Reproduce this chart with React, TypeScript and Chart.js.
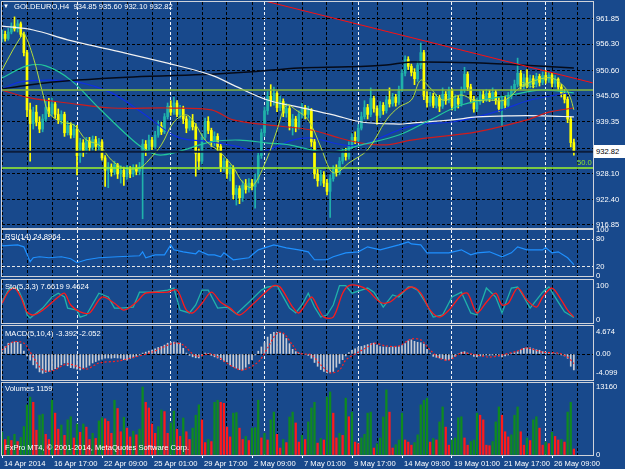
import React, { useEffect, useRef } from "react";
import { Chart, registerables } from "chart.js";

Chart.register(...registerables);

const FONT = "'Liberation Sans', Arial, sans-serif";
const FS = 7.6;
const BG = "#18498c";
const BULL = "#20b2aa";
const BEAR = "#ffff00";
const W = 625;
const H = 469;
const X_MAX = 591 / 3.125;
const DASH = [3, 2];

// ---------------- data ----------------
const opens = [957.5,958.5,957.6,959.0,960.3,959.7,960.8,958.5,954.5,942.0,
939.0,941.5,939.3,937.8,940.0,942.5,941.2,943.3,941.0,939.8,
941.0,937.0,938.6,936.5,937.8,932.0,934.8,933.0,935.2,933.8,
935.5,934.0,935.0,931.5,928.8,929.5,928.4,930.0,928.0,928.8,
927.4,929.0,928.0,929.3,928.6,929.5,934.5,933.2,935.4,934.0,
936.5,938.5,937.2,940.5,942.8,941.5,943.5,941.0,942.3,940.0,
938.0,939.6,938.3,932.5,930.8,936.0,939.5,937.5,935.0,936.2,
934.0,929.5,930.8,928.0,929.2,923.5,924.8,922.8,925.6,924.6,
926.0,925.2,926.8,932.0,937.0,941.8,945.0,944.0,945.6,942.5,
943.8,941.3,942.3,938.5,940.0,938.2,941.0,942.5,941.0,942.0,
935.0,928.0,926.5,927.8,926.0,924.2,927.0,929.0,928.3,930.8,
932.5,931.8,934.2,936.0,935.3,938.0,940.5,942.5,941.0,944.5,
942.3,940.8,943.0,941.8,944.2,943.3,944.8,943.6,946.5,950.0,
953.0,951.5,950.2,948.8,951.8,954.5,945.0,943.6,945.0,943.0,
944.6,942.8,945.4,944.0,946.2,942.8,944.5,943.3,946.3,949.8,
947.0,944.3,942.2,943.8,945.3,944.3,945.6,944.5,945.8,944.0,
942.3,944.2,943.0,945.0,946.3,947.6,950.0,947.2,949.0,947.5,
948.8,947.6,949.3,948.0,949.5,948.5,949.6,947.8,948.7,947.0,
945.6,944.3,940.0,934.85];

const closes = [958.5,957.6,959.0,960.3,959.7,960.8,958.5,954.5,942.0,939.0,
941.5,939.3,937.8,940.0,942.5,941.2,943.3,941.0,939.8,941.0,
937.0,938.6,936.5,937.8,932.0,934.8,933.0,935.2,933.8,935.5,
934.0,935.0,931.5,928.8,929.5,928.4,930.0,928.0,928.8,927.4,
929.0,928.0,929.3,928.6,929.5,934.5,933.2,935.4,934.0,936.5,
938.5,937.2,940.5,942.8,941.5,943.5,941.0,942.3,940.0,938.0,
939.6,938.3,932.5,930.8,936.0,939.5,937.5,935.0,936.2,934.0,
929.5,930.8,928.0,929.2,923.5,924.8,922.8,925.6,924.6,926.0,
925.2,926.8,932.0,937.0,941.8,945.0,944.0,945.6,942.5,943.8,
941.3,942.3,938.5,940.0,938.2,941.0,942.5,941.0,942.0,935.0,
928.0,926.5,927.8,926.0,924.2,927.0,929.0,928.3,930.8,932.5,
931.8,934.2,936.0,935.3,938.0,940.5,942.5,941.0,944.5,942.3,
940.8,943.0,941.8,944.2,943.3,944.8,943.6,946.5,950.0,953.0,
951.5,950.2,948.8,951.8,954.5,945.0,943.6,945.0,943.0,944.6,
942.8,945.4,944.0,946.2,942.8,944.5,943.3,946.3,949.8,947.0,
944.3,942.2,943.8,945.3,944.3,945.6,944.5,945.8,944.0,942.3,
944.2,943.0,945.0,946.3,947.6,950.0,947.2,949.0,947.5,948.8,
947.6,949.3,948.0,949.5,948.5,949.6,947.8,948.7,947.0,945.6,
944.3,940.0,934.85,932.82];

const highs = [959.5,959.2,959.8,961.0,962.3,961.6,961.2,959.0,955.0,943.5,
942.6,943.0,940.5,941.0,944.0,944.5,944.6,943.8,942.2,941.8,
941.5,939.5,939.2,938.9,938.6,935.8,935.5,936.0,936.0,936.3,
936.2,935.8,935.5,932.0,930.5,930.2,930.8,930.3,929.8,929.5,
929.8,929.6,930.0,930.0,930.5,935.5,935.3,936.5,936.0,937.3,
939.6,939.3,941.2,943.5,944.0,944.8,944.0,943.0,942.8,940.6,
940.5,941.0,939.0,933.5,936.8,940.2,940.5,938.0,937.2,936.8,
934.5,931.5,931.2,930.0,929.8,925.5,925.4,926.5,926.8,927.0,
926.8,928.0,932.6,937.8,942.6,946.0,947.5,947.0,946.0,945.0,
944.4,943.4,942.8,941.0,940.6,941.8,943.4,943.0,942.8,942.3,
935.6,929.0,928.8,928.5,926.8,927.8,929.8,930.0,931.6,933.5,
933.6,935.0,936.8,937.2,938.8,941.5,944.0,943.2,946.8,945.0,
942.9,943.8,943.6,945.0,946.8,945.6,945.4,947.2,950.8,953.8,
953.6,952.0,951.0,952.6,956.6,955.0,946.0,945.8,945.6,945.4,
945.2,946.8,946.0,947.0,946.6,945.3,945.0,947.0,951.3,950.3,
947.6,945.0,944.6,946.0,946.2,946.5,946.3,946.8,946.3,944.6,
945.0,945.0,945.8,947.2,948.5,953.3,950.6,949.8,950.8,949.6,
949.5,950.0,949.8,950.3,950.6,950.2,950.0,949.5,949.0,947.6,
946.5,944.8,940.5,935.60];

const lows = [956.8,957.0,957.2,958.6,959.2,959.0,958.0,953.8,940.5,930.8,
937.8,938.5,937.0,937.2,939.5,940.5,940.8,940.2,939.0,938.9,
936.2,936.5,935.8,935.9,927.8,930.5,931.8,932.5,933.0,933.2,
933.0,933.2,931.0,925.3,925.0,927.5,927.8,927.0,926.0,925.5,
926.8,927.2,927.4,927.8,927.8,918.2,932.0,932.6,933.3,933.6,
936.0,936.6,936.8,940.0,940.8,941.0,940.5,940.2,939.0,937.0,
937.5,937.6,927.5,929.0,930.2,935.5,936.8,934.0,934.2,933.0,
928.5,928.6,927.0,926.5,922.5,921.2,921.5,922.0,923.8,924.0,
924.5,920.5,926.0,931.4,936.2,941.0,942.8,943.0,941.6,941.8,
940.5,940.4,937.6,936.5,937.2,937.8,940.2,940.0,940.2,934.0,
927.0,925.3,925.5,925.2,923.4,918.5,926.4,927.5,927.8,930.2,
931.0,931.2,933.6,934.6,934.8,937.6,940.0,940.0,940.5,941.5,
938.8,940.3,941.0,941.3,942.6,942.8,942.8,943.2,946.0,949.4,
950.8,949.4,947.5,948.2,951.0,944.2,942.6,942.8,942.5,942.4,
941.6,942.3,943.2,943.5,942.0,941.8,942.4,942.8,945.8,946.2,
943.5,941.5,941.6,943.2,943.6,943.8,943.8,944.0,943.2,941.6,
938.3,942.2,942.5,944.4,945.8,947.0,946.5,946.6,946.8,946.8,
946.8,947.0,947.2,947.5,947.8,948.0,947.0,947.0,946.3,944.8,
943.5,939.2,933.9,932.10];

const volumes = [4400,3000,3600,2800,4000,2600,3400,5500,9700,11200,
10200,4800,7700,7900,4000,3000,10600,8100,5000,5800,
3800,6800,7400,3300,6000,4400,6000,5400,3000,4200,
3200,6600,7200,7000,6500,4200,10600,9000,4500,7300,
5200,3500,4600,3900,5000,13160,10200,9100,6000,4200,
5500,8700,8400,4200,6200,8500,5000,3600,7160,4500,
3000,5200,7700,9700,6800,2400,3000,2600,10200,10600,
10200,10000,5400,3500,8100,8200,5200,3000,3600,2800,
5200,5300,10600,3300,4200,2900,6800,8300,4000,1350,
3000,2400,7350,8300,6200,2500,3800,3000,6400,9100,
10200,2300,3200,2900,11200,12200,8100,3300,4200,3800,
11000,7400,8300,2500,2200,3300,4000,8100,8300,1350,
2200,3300,7350,12600,8300,1350,2000,2900,8100,2900,
2500,1900,2400,3900,9700,10600,11000,2500,3200,2900,
6400,9300,5400,1900,2900,3300,7200,7400,3300,1900,
2600,2900,8100,7700,6800,1900,1800,2600,6400,9300,
7700,4500,3500,3900,7700,9300,4500,1900,3300,2800,
6800,7400,5200,1900,2500,2200,4400,3600,2900,3000,
2500,8300,10200,1159];

const macdMain = [0.4,1.6,2.3,2.4,2.55,2.5,2.1,0.6,-0.4,-1.3,
-2.3,-3.0,-3.8,-4.099,-3.9,-3.7,-3.4,-3.1,-2.8,-2.3,
-1.9,-2.5,-2.9,-3.0,-3.2,-3.4,-3.1,-2.8,-2.4,-1.9,
-1.6,-1.3,-1.1,-0.9,-0.85,-0.9,-0.8,-0.85,-0.9,-1.2,
-1.3,-1.0,-0.8,-0.5,-0.2,0.2,0.4,0.6,0.85,1.1,
1.4,1.6,1.9,2.3,2.5,2.55,2.4,2.3,1.2,0.2,
-0.3,-0.6,-0.8,-0.85,-0.4,0.2,0.1,-0.3,-0.6,-0.85,
-1.2,-1.5,-1.7,-2.3,-2.7,-3.0,-3.3,-3.4,-2.8,-2.1,
-1.2,-0.2,0.6,1.5,2.4,3.6,4.2,4.6,4.674,4.6,
4.3,3.3,2.2,1.0,0.5,0.2,0.1,-0.1,-0.3,-0.9,
-1.8,-2.6,-3.3,-3.7,-4.0,-3.9,-3.7,-2.8,-2.0,-1.2,
-0.4,0.3,0.8,1.1,1.4,1.6,1.8,2.0,2.2,2.3,
1.9,1.6,1.5,1.5,1.4,1.5,1.5,1.6,1.8,2.2,
2.8,3.0,2.7,2.5,2.4,2.1,1.0,0.2,-0.5,-0.7,
-0.85,-1.0,-1.3,-1.2,-0.9,-0.5,0.0,0.4,0.5,0.2,
-0.1,-0.5,-0.6,-0.4,-0.3,-0.2,-0.25,-0.2,-0.2,-0.4,
-0.6,-0.4,-0.2,0.1,0.3,0.5,0.9,1.2,1.3,1.3,
1.1,0.9,0.8,0.5,0.35,0.25,0.2,0.1,0.0,-0.2,
-0.4,-0.9,-2.6,-3.392];

// [bar index, value] samples
const macdSignal = [[0,0.85],[3.5,2.55],[7,2.3],[10,-0.65],[13,-3.4],[16,-3.6],[21,-2.1],[27,-3.2],[31,-1.9],[37,-1.5],[44,-0.4],[48,0.4],[55,2.3],[58,1.9],[62,-0.4],[67,0],[74,-2.75],[77,-3.4],[82,-1.7],[85,1.3],[88,4.45],[90,4.45],[93,1.9],[95,0.2],[99,-0.2],[102,-2.3],[105,-4.0],[108,-3.4],[110,-1.3],[114,0.4],[117,1.5],[119,2.3],[123,1.7],[127,1.7],[131,3.2],[134,3.0],[137,0.85],[140,-0.85],[143,-1.3],[147,0.2],[152,-0.2],[156,-0.65],[160,-0.2],[165,0.65],[168,1.3],[173,0.4],[178,0.2],[181,-0.65],[183,-2.052]];

const rsiLine = [[0,65.5],[5,67.7],[7,63.4],[9,31],[10,39.7],[12,41.8],[15,39.7],[19,41.8],[22,37.5],[24,28.9],[27,35.3],[31,39.7],[37,41.8],[44,44],[45,52.6],[46,39.7],[49,46],[52,46],[54,67.7],[55,56.9],[58,52.6],[62,48.3],[63,55],[66,46],[68,46],[70,41.8],[71,50.4],[74,35.3],[79,39.7],[82,56.9],[85,63.4],[87,67.7],[91,61.2],[95,56.9],[98,52.6],[100,35.3],[104,35.3],[106,41.8],[110,50.4],[114,52.6],[117,63.4],[121,56.9],[127,67.7],[130,74.1],[131,69.8],[134,67.7],[136,50.4],[139,50.4],[143,50.4],[147,56.9],[150,46.1],[152,50.4],[156,52.6],[160,41.8],[163,50.4],[165,63.4],[168,56.9],[173,56.9],[174,61.2],[176,50.4],[178,52.6],[181,39.7],[183,24.9]];

const stoMain = [[0,52],[2,87],[3,95],[5,93],[7,52],[8,15],[9,6],[11,21],[13,35],[16,67],[18,78],[20,67],[21,35],[24,29],[25,9],[27,15],[31,78],[34,67],[36,35],[38,35],[42,38],[44,81],[48,81],[53,87],[55,93],[57,29],[60,21],[62,44],[64,87],[66,87],[69,35],[72,38],[75,18],[79,52],[83,87],[85,96],[88,100],[92,35],[94,21],[96,44],[98,78],[100,38],[102,9],[104,15],[106,44],[108,100],[110,100],[112,78],[117,93],[119,81],[122,38],[125,73],[127,67],[130,96],[131,96],[133,87],[136,44],[138,9],[141,15],[144,67],[147,81],[150,21],[152,15],[155,93],[158,67],[160,21],[163,93],[165,96],[167,67],[169,35],[171,58],[173,81],[175,96],[178,52],[180,24],[183,7.66]];

const stoSignal = [[0,49],[2,81],[4,93],[6,67],[8,24],[10,15],[13,29],[18,67],[20,78],[22,44],[25,24],[28,21],[32,67],[36,49],[39,29],[43,52],[46,78],[53,81],[56,87],[59,29],[61,21],[64,49],[67,81],[70,52],[73,35],[76,15],[80,44],[84,78],[87,100],[89,96],[93,38],[95,21],[99,67],[101,38],[103,9],[106,9],[109,78],[111,100],[114,100],[117,87],[121,52],[124,52],[127,73],[131,96],[134,78],[137,29],[140,9],[143,29],[147,73],[149,78],[152,21],[155,52],[158,78],[160,44],[162,49],[165,93],[168,58],[171,38],[173,67],[176,93],[179,58],[181,29],[183,9.46]];

const maWhite = [[0,960.3],[10,959.45],[21,957.3],[35,955.1],[53,952.2],[67,949.6],[74,947.4],[85,944.15],[95,942.6],[106,940.9],[115,939.35],[127,938.9],[131,939.1],[144,939.8],[152,940.45],[163,940.7],[173,940.7],[183,940.45]];
const maBlack = [[0,946.55],[8,947.4],[24,948.5],[42,949.2],[67,949.8],[80,950.3],[95,951.15],[111,951.4],[123,951.8],[131,952.45],[155,952.2],[166,951.8],[183,951.15]];
const maBlue = [[0,946.55],[6,948.1],[15,948.5],[24,948.1],[35,945.7],[45,941.3],[56,936.1],[67,935.0],[76,933.9],[83,932.8],[93,935.4],[99,935.85],[109,934.35],[115,934.35],[131,938.5],[144,939.35],[152,940.45],[160,942.0],[169,944.15],[183,945.9]];
const maTeal = [[0,948.95],[8,951.6],[14,951.6],[22,948.5],[31,942.4],[40,936.5],[45,933.7],[50,932.15],[56,932.8],[67,935.0],[76,935.4],[85,934.75],[92,934.35],[99,933.25],[106,932.8],[115,934.35],[127,936.5],[137,939.8],[147,943.05],[163,945.25],[173,946.35],[183,945.7]];
const maFast = [[0,950.7],[3.5,955.1],[6,957.9],[7,958.8],[10,953.5],[13,945.7],[15,941.3],[19,939.35],[23,938.7],[27,935.4],[31,934.35],[35,931.05],[39,929.3],[44,929.3],[47,931.05],[51,934.35],[55,939.35],[59,940.9],[62,938.7],[65,935.4],[70,932.6],[74,929.5],[77,926.2],[80,925.15],[85,931.7],[88,937.6],[91,943.05],[94,942.0],[98,939.8],[102,933.9],[105,928.85],[107,928.2],[111,930.4],[117,933.25],[123,939.8],[127,942.6],[131,944.15],[134,948.5],[137,946.8],[141,944.15],[147,945.25],[151,944.15],[156,944.15],[161,944.15],[166,947.0],[171,948.5],[176,948.95],[180,947.0],[181.8,944.8],[183,942.0]];
const maRed = [[0,946.3],[9,944.6],[21,943.5],[35,942.4],[53,942.4],[67,942.0],[74,939.8],[85,938.7],[99,937.6],[108,935.85],[115,934.75],[123,934.35],[131,935.4],[152,937.2],[168,939.8],[175,941.5],[183,942.4]];
const trendLine = [[84,965.8],[189,947.9]];

const fibLevels = [946.34, 929.3];
const fibNames = ["38.2", "50.0"];
const fibLabelBars = [166, 184];
const lastPrice = 932.82;

const priceTicks = [961.85, 956.3, 950.6, 945.05, 939.35, 933.65, 928.1, 922.4, 916.85];
const rsiTicks = [0, 20, 80, 100];
const stoTicks = [0, 100];
const macdTicks = [-4.099, 0, 4.674];
const macdTickText = ["-4.099", "0.00", "4.674"];
const volTicks = [0, 13160];

const xLabels = ["14 Apr 2014", "16 Apr 17:00", "22 Apr 09:00", "25 Apr 01:00", "29 Apr 17:00", "2 May 09:00", "7 May 01:00", "9 May 17:00", "14 May 09:00", "19 May 01:00", "21 May 17:00", "26 May 09:00"];
const weekStarts = [24, 54, 84, 114, 144, 174];

// ---------------- layout ----------------
const PANELS = {
  main: { top: 2, bottom: 228 },
  rsi: { top: 230, bottom: 276 },
  sto: { top: 280, bottom: 323 },
  macd: { top: 326, bottom: 380 },
  vol: { top: 383, bottom: 455 },
};

const gridBars: number[] = [];
for (let b = 0; b <= 188; b += 8) gridBars.push(b);
const xTickValues = Array.from(new Set([...gridBars, ...weekStarts])).sort((a, b) => a - b);

const labelFor = (v: number) => {
  if (v % 16 !== 0) return "";
  const k = v / 16;
  return k < xLabels.length ? xLabels[k] : "";
};

const frame = {
  id: "frame",
  afterDraw(chart: any) {
    const { ctx, chartArea: a } = chart;
    ctx.save();
    ctx.strokeStyle = "#cfd3da";
    ctx.lineWidth = 1;
    ctx.strokeRect(Math.round(a.left) - 0.5, Math.round(a.top) - 0.5, Math.round(a.right - a.left) + 1, Math.round(a.bottom - a.top) + 1);
    ctx.restore();
  },
};

const fibText = {
  id: "fibText",
  afterDatasetsDraw(chart: any) {
    const { ctx } = chart;
    const xs = chart.scales.x;
    const ys = chart.scales.y;
    ctx.save();
    ctx.font = `${FS}px ${FONT}`;
    ctx.textBaseline = "bottom";
    ctx.textAlign = "left";
    fibLevels.forEach((p, i) => {
      ctx.fillStyle = i === 0 ? "#b4e646" : "#8ee62a";
      ctx.fillText(fibNames[i], xs.getPixelForValue(fibLabelBars[i]), ys.getPixelForValue(p) - 1);
    });
    ctx.restore();
  },
};

function xScale(bottom: boolean) {
  return {
    type: "linear",
    min: 0,
    max: X_MAX,
    offset: false,
    afterBuildTicks: (s: any) => {
      s.ticks = xTickValues.map((v) => ({ value: v }));
    },
    afterFit: (s: any) => {
      s.height = bottom ? 14 : 0;
      s.paddingLeft = 0;
      s.paddingRight = 0;
    },
    grid: {
      offset: false,
      color: (c: any) => (c.tick && weekStarts.includes(c.tick.value) ? "rgba(255,255,255,0.95)" : "#000000"),
      lineWidth: 1,
      borderDash: DASH,
      drawTicks: bottom,
      tickLength: 3,
      tickBorderDash: [],
      tickColor: (c: any) => (c.tick && labelFor(c.tick.value) ? "#ffffff" : "rgba(0,0,0,0)"),
    },
    border: { display: false, dash: DASH },
    ticks: {
      display: bottom,
      autoSkip: false,
      maxRotation: 0,
      minRotation: 0,
      align: "start",
      labelOffset: 2,
      padding: 1,
      color: "#ffffff",
      font: { family: FONT, size: FS },
      callback: (v: any) => labelFor(Number(v)),
    },
  };
}

function yScale(min: number, max: number, ticks: number[], fmt: (v: number) => string, gridColor: any) {
  return {
    type: "linear",
    position: "right",
    min,
    max,
    afterBuildTicks: (s: any) => {
      s.ticks = ticks.map((v) => ({ value: v }));
    },
    afterFit: (s: any) => {
      s.width = 32;
      s.paddingTop = 0;
      s.paddingBottom = 0;
    },
    grid: { color: gridColor, lineWidth: 1, drawTicks: false, borderDash: DASH },
    border: { display: false, dash: DASH },
    ticks: {
      autoSkip: false,
      padding: 3,
      color: "#ffffff",
      font: { family: FONT, size: FS },
      callback: (v: any) => fmt(Number(v)),
    },
  };
}

function baseOptions(panel: { top: number; bottom: number }, bottom: boolean, scales: any) {
  return {
    responsive: false,
    animation: false,
    devicePixelRatio: 1,
    events: [],
    layout: { padding: { left: 2, right: 0, top: panel.top, bottom: H - panel.bottom - (bottom ? 14 : 0) } },
    plugins: { legend: { display: false }, tooltip: { enabled: false }, title: { display: false } },
    scales,
  };
}

const pts = (arr: number[][]) => arr.map(([x, y]) => ({ x, y }));
const line = (arr: number[][], color: string, width: number, order: number, extra: any = {}) => ({
  type: "line",
  data: pts(arr),
  borderColor: color,
  borderWidth: width,
  pointRadius: 0,
  tension: 0.35,
  fill: false,
  order,
  ...extra,
});

function buildConfigs() {
  const idx = closes.map((_, i) => i);
  const candleColor = idx.map((i) => (closes[i] >= opens[i] ? BULL : BEAR));
  const fullX = [0, X_MAX];

  const main = {
    type: "bar",
    data: {
      datasets: [
        { type: "bar", data: idx.map((i) => ({ x: i, y: [lows[i], highs[i]] })), backgroundColor: candleColor, barThickness: 1, grouped: false, order: 30 },
        { type: "bar", data: idx.map((i) => ({ x: i, y: [opens[i], closes[i]] })), backgroundColor: candleColor, barThickness: 2, grouped: false, order: 29 },
        line(maWhite, "#f2f2f2", 1.2, 10),
        line(maBlack, "#050a18", 1.5, 10),
        line(maBlue, "#1030e0", 1.2, 10),
        line(maTeal, "#22c79c", 1.2, 9),
        line(maRed, "#d01c1c", 1.2, 9),
        line(maFast, "#b4dc3c", 1, 8),
        line(trendLine, "#ff1010", 1, 7, { tension: 0 }),
        line(fullX.map((x) => [x, fibLevels[0]]), "#86b83c", 1.5, 5, { tension: 0 }),
        line(fullX.map((x) => [x, fibLevels[1]]), "#9cf52a", 1.5, 5, { tension: 0 }),
        line(fullX.map((x) => [x, lastPrice]), "#0b1c3c", 2, 4, { tension: 0 }),
      ],
    },
    options: baseOptions(PANELS.main, false, {
      x: xScale(false),
      y: yScale(916.19, 965.56, priceTicks, (v) => v.toFixed(2), "#000000"),
    }),
    plugins: [frame, fibText],
  };

  const rsi = {
    type: "line",
    data: { datasets: [line(rsiLine, "#1e90ff", 1.2, 1, { tension: 0 })] },
    options: baseOptions(PANELS.rsi, false, {
      x: xScale(false),
      y: yScale(0, 100, rsiTicks, (v) => String(v), (c: any) => (c.tick && (c.tick.value === 20 || c.tick.value === 80) ? "#e8e8e8" : "rgba(0,0,0,0)")),
    }),
    plugins: [frame],
  };

  const sto = {
    type: "line",
    data: {
      datasets: [
        line(stoMain, "#20b2aa", 1.3, 2, { tension: 0 }),
        line(stoSignal, "#ff1a1a", 1.3, 1, { tension: 0.3 }),
      ],
    },
    options: baseOptions(PANELS.sto, false, {
      x: xScale(false),
      y: yScale(-8.1, 116.2, stoTicks, (v) => String(v), "rgba(0,0,0,0)"),
    }),
    plugins: [frame],
  };

  const macd = {
    type: "bar",
    data: {
      datasets: [
        { type: "bar", data: idx.map((i) => ({ x: i, y: macdMain[i] })), backgroundColor: "#c8ccd4", barThickness: 1, grouped: false, order: 5 },
        line(macdSignal, "#ff2020", 1.2, 1, { tension: 0.3, borderDash: [2, 2] }),
      ],
    },
    options: baseOptions(PANELS.macd, false, {
      x: xScale(false),
      y: yScale(-5.52, 5.95, macdTicks, (v) => macdTickText[macdTicks.indexOf(v)] ?? "", (c: any) => (c.tick && c.tick.value === 0 ? "#000000" : "rgba(0,0,0,0)")),
    }),
    plugins: [frame],
  };

  const volColors = idx.map((i) => (i > 0 && volumes[i] < volumes[i - 1] ? "#ff1a1a" : "#0f8a1f"));
  const vol = {
    type: "bar",
    data: {
      datasets: [
        { type: "bar", data: idx.map((i) => ({ x: i, y: volumes[i] })), backgroundColor: volColors, barThickness: 1.6, grouped: false },
      ],
    },
    options: baseOptions(PANELS.vol, true, {
      x: xScale(true),
      y: yScale(0, 13934, volTicks, (v) => String(v), "rgba(0,0,0,0)"),
    }),
    plugins: [frame],
  };

  return [main, rsi, sto, macd, vol];
}

const overlayTexts = [
  { text: "\u25BC", x: 3, y: 6, size: 6 },
  { text: "GOLDEURO,H4  934.85 935.60 932.10 932.82", x: 14, y: 7, size: FS },
  { text: "RSI(14) 24.8964", x: 5, y: 237, size: FS },
  { text: "Sto(5,3,3) 7.6619 9.4624", x: 5, y: 287, size: FS },
  { text: "MACD(5,10,4) -3.392 -2.052", x: 5, y: 334, size: FS },
  { text: "Volumes 1159", x: 5, y: 389, size: FS },
  { text: "FxPro MT4, \u00A9 2001-2014, MetaQuotes Software Corp.", x: 5, y: 448, size: FS },
];

export default function App() {
  const r0 = useRef<HTMLCanvasElement>(null);
  const r1 = useRef<HTMLCanvasElement>(null);
  const r2 = useRef<HTMLCanvasElement>(null);
  const r3 = useRef<HTMLCanvasElement>(null);
  const r4 = useRef<HTMLCanvasElement>(null);
  const refs = [r0, r1, r2, r3, r4];

  useEffect(() => {
    const cfgs = buildConfigs();
    const charts = cfgs.map((cfg, i) => new Chart(refs[i].current as HTMLCanvasElement, cfg as any));
    return () => charts.forEach((c) => c.destroy());
  }, []);

  return (
    <div style={{ position: "fixed", left: 0, top: 0, width: W, height: H, background: BG, overflow: "hidden" }}>
      {refs.map((r, i) => (
        <canvas key={i} ref={r} width={W} height={H} style={{ position: "absolute", left: 0, top: 0, width: W, height: H }} />
      ))}
      {overlayTexts.map((t, i) => (
        <div
          key={i}
          style={{
            position: "absolute",
            left: t.x,
            top: t.y - 6,
            height: 12,
            lineHeight: "12px",
            fontSize: t.size,
            fontFamily: FONT,
            color: "#ffffff",
            whiteSpace: "pre",
          }}
        >
          {t.text}
        </div>
      ))}
      <div
        style={{
          position: "absolute",
          left: 594,
          top: 145,
          width: 31,
          height: 13,
          lineHeight: "13px",
          background: "#ffffff",
          color: "#000000",
          fontSize: FS,
          fontFamily: FONT,
          paddingLeft: 2,
          boxSizing: "border-box",
        }}
      >
        {lastPrice.toFixed(2)}
      </div>
    </div>
  );
}
